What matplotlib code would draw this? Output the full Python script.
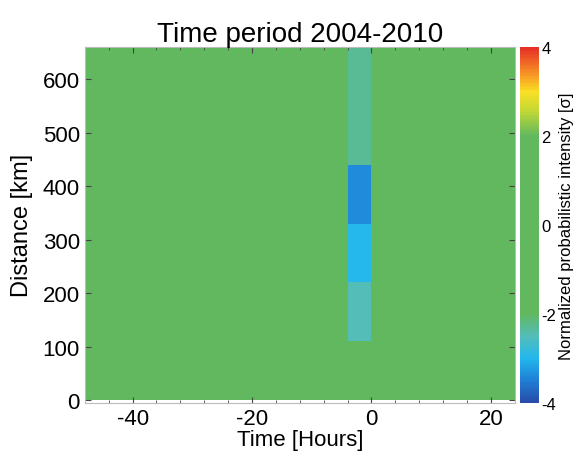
import numpy as np
import matplotlib
matplotlib.use("Agg")
import matplotlib.pyplot as plt
from matplotlib.colors import LinearSegmentedColormap
from matplotlib.ticker import MultipleLocator

plt.rcParams['font.family'] = ['Liberation Sans', 'DejaVu Sans']
plt.rcParams['axes.unicode_minus'] = False

# bin edges (hours relative to event, km)
time_edges = np.arange(-48, 26, 2)
dist_edges = np.array([0, 110, 220, 330, 440, 550, 660])

# background level and the anomaly column at -4..0 h (bottom to top)
background = 0.0
column_hours = [-4, -2]
column_values = [-1.5, -2.5, -3.0, -3.4, -2.3, -2.3]

# custom jet-like map with a wide green middle
nodes = [
    (-4.0, (0.16, 0.30, 0.66)),
    (-3.5, (0.12, 0.50, 0.84)),
    (-3.0, (0.14, 0.72, 0.93)),
    (-2.5, (0.33, 0.74, 0.72)),
    (-2.0, (0.38, 0.72, 0.37)),
    (2.0, (0.38, 0.72, 0.37)),
    (2.6, (0.78, 0.85, 0.20)),
    (3.0, (0.98, 0.88, 0.15)),
    (3.4, (0.97, 0.58, 0.15)),
    (4.0, (0.90, 0.18, 0.15)),
]
cmap = LinearSegmentedColormap.from_list(
    "npi", [((v + 4) / 8, c) for v, c in nodes])

grid = np.full((len(dist_edges) - 1, len(time_edges) - 1), background)
for h in column_hours:
    j = np.searchsorted(time_edges, h)
    grid[:, j] = column_values

fig = plt.figure(figsize=(5.85, 4.6), dpi=100)
ax = fig.add_axes([0.145, 0.122, 0.735, 0.774])
cax = fig.add_axes([0.889, 0.122, 0.032, 0.774])

mesh = ax.pcolormesh(time_edges, dist_edges, grid, cmap=cmap, vmin=-4, vmax=4)
ax.set_xlim(-48, 24)
ax.set_ylim(-5, 660)
ax.set_xticks([-40, -20, 0, 20])
ax.xaxis.set_minor_locator(MultipleLocator(4))
ax.set_yticks(np.arange(0, 700, 100))
ax.tick_params(direction='in', top=True, right=True, labelsize=16, length=4,
               color='#444444')
ax.tick_params(which='minor', direction='in', top=True, length=2, color='#444444')
for s in ax.spines.values():
    s.set_color('#bbbbbb')
ax.set_xlabel("Time [Hours]", fontsize=16, labelpad=0)
ax.set_ylabel("Distance [km]", fontsize=17, labelpad=7)
ax.set_title("Time period 2004-2010", fontsize=20, pad=4)

cb = fig.colorbar(mesh, cax=cax, ticks=[-4, -2, 0, 2, 4])
cb.outline.set_visible(False)
cax.tick_params(length=0, labelsize=12, pad=2)
cb.set_label("Normalized probabilistic intensity [σ]", fontsize=12, labelpad=2)

fig.savefig("out.png", dpi=100)
